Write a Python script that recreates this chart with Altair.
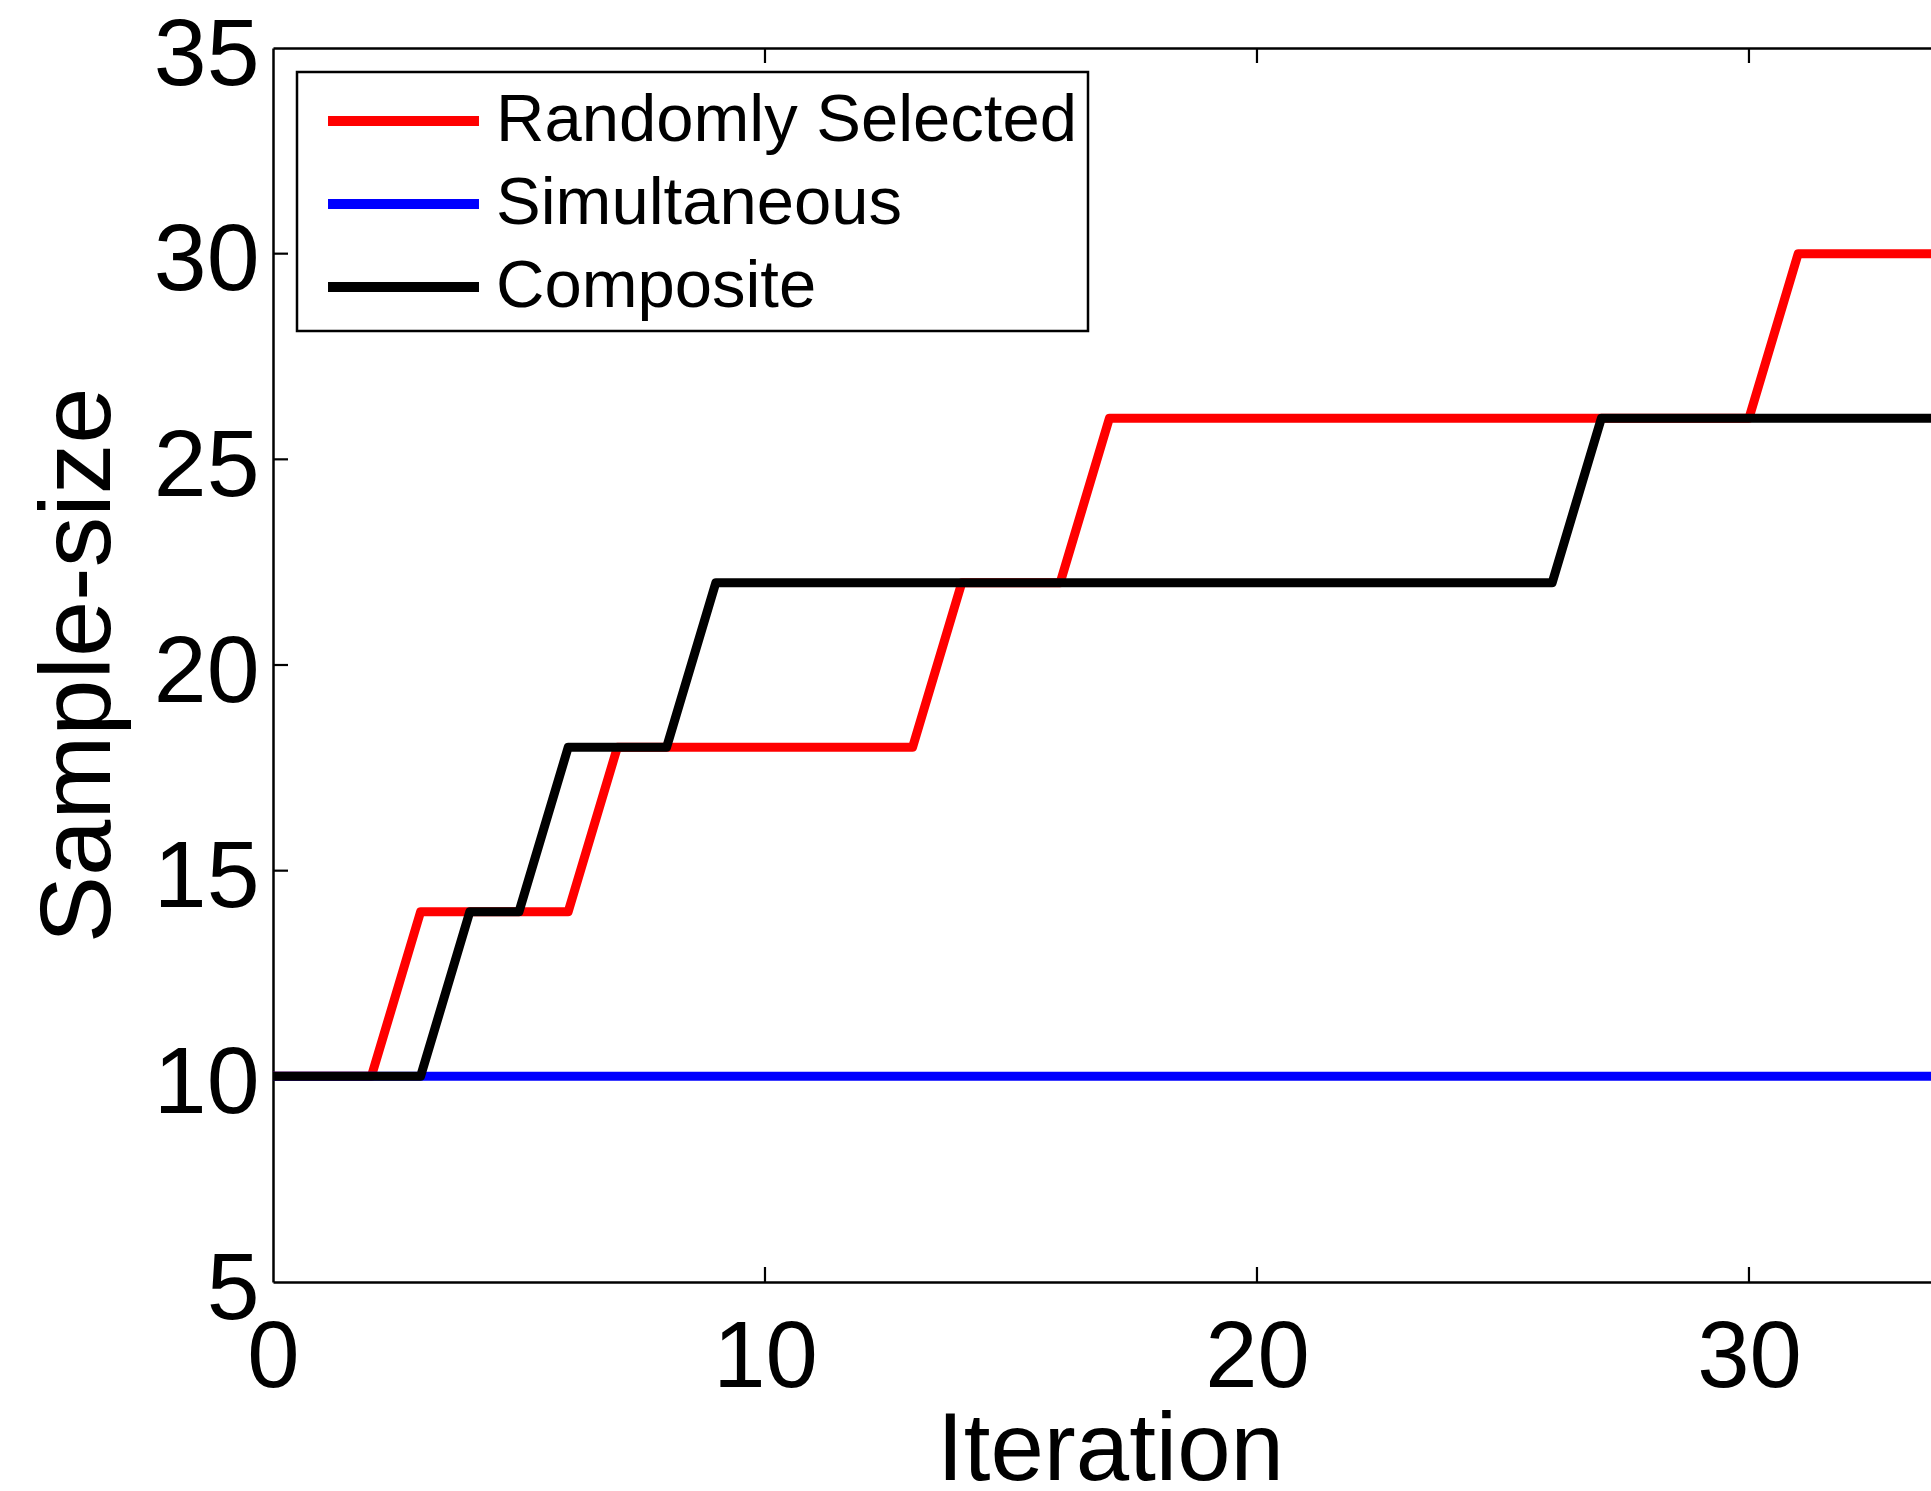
import altair as alt
import pandas as pd

# ---- data ----
iterations = list(range(0, 35))
randomly_selected = [10, 10, 10, 14, 14, 14, 14, 18, 18, 18, 18, 18, 18, 18,
                     22, 22, 22, 26, 26, 26, 26, 26, 26, 26, 26, 26, 26, 26,
                     26, 26, 26, 30, 30, 30, 30]
simultaneous = [10] * 35
composite = [10, 10, 10, 10, 14, 14, 18, 18, 18, 22, 22, 22, 22, 22, 22, 22,
             22, 22, 22, 22, 22, 22, 22, 22, 22, 22, 22, 26, 26, 26, 26, 26,
             26, 26, 26]

series_names = ["Randomly Selected", "Simultaneous", "Composite"]
series_colors = ["#ff0000", "#0000ff", "#000000"]
series_values = [randomly_selected, simultaneous, composite]

x_tick_values = [0, 10, 20, 30]
x_inner_ticks = [10, 20, 30]
y_tick_values = [5, 10, 15, 20, 25, 30, 35]
y_inner_ticks = [10, 15, 20, 25, 30]

FONT = "Liberation Sans"
W, H = 1658, 1234

rows = []
for name, vals in zip(series_names, series_values):
    for it, v in zip(iterations, vals):
        rows.append({"iteration": it, "size": v, "series": name})
df = pd.DataFrame(rows)

x_scale = alt.Scale(domain=[0, 33.7], nice=False, zero=False)
y_scale = alt.Scale(domain=[5, 35], nice=False, zero=False)

x_axis = alt.Axis(values=x_tick_values, format="d", grid=False, ticks=False,
                  tickSize=0, domain=True, domainColor="black", domainWidth=2.5,
                  labelFont=FONT, labelFontSize=94, labelColor="black",
                  labelPadding=30, labelFlush=False, labelOverlap=False,
                  title="Iteration", titleFont=FONT, titleFontSize=96,
                  titleFontWeight="normal", titleColor="black",
                  titleX=837, titleY=197, titleBaseline="alphabetic",
                  titleAlign="center")
y_axis = alt.Axis(values=y_tick_values, format="d", grid=False, ticks=False,
                  tickSize=0, domain=True, domainColor="black", domainWidth=2.5,
                  labelFont=FONT, labelFontSize=95, labelColor="black",
                  labelPadding=14, labelOffset=7, labelFlush=False,
                  labelOverlap=False,
                  title="Sample-size", titleFont=FONT, titleFontSize=101,
                  titleFontWeight="normal", titleColor="black",
                  titleAngle=270, titleX=-164, titleY=617,
                  titleBaseline="alphabetic", titleAlign="center")

lines = alt.Chart(df).mark_line(strokeWidth=9, strokeJoin="round", clip=True).encode(
    x=alt.X("iteration:Q", scale=x_scale, axis=x_axis),
    y=alt.Y("size:Q", scale=y_scale, axis=y_axis),
    color=alt.Color("series:N",
                    scale=alt.Scale(domain=series_names, range=series_colors),
                    sort=series_names,
                    legend=alt.Legend(orient="none", legendX=24, legendY=24, title=None,
                                      symbolType="M-0.545,0H4.03", symbolSize=4356,
                                      symbolStrokeWidth=10, labelFont=FONT,
                                      labelFontSize=67, labelColor="black",
                                      labelOffset=112, labelLimit=0, rowPadding=12,
                                      padding=11, strokeColor="black",
                                      fillColor="white", cornerRadius=0)),
)

xt = pd.DataFrame({"t": x_inner_ticks})
yt = pd.DataFrame({"t": y_inner_ticks})

bottom_ticks = alt.Chart(xt).mark_rule(color="black", strokeWidth=2.2).encode(
    x=alt.X("t:Q", scale=x_scale, axis=None),
    y=alt.value(H), y2=alt.value(H - 15),
)
top_ticks = alt.Chart(xt).mark_rule(color="black", strokeWidth=2.2).encode(
    x=alt.X("t:Q", scale=x_scale,
            axis=alt.Axis(orient="top", labels=False, ticks=False, grid=False,
                          domain=True, domainColor="black", domainWidth=2.5,
                          title=None)),
    y=alt.value(0), y2=alt.value(15),
)
left_ticks = alt.Chart(yt).mark_rule(color="black", strokeWidth=2.2).encode(
    y=alt.Y("t:Q", scale=y_scale, axis=y_axis),
    x=alt.value(0), x2=alt.value(15),
)

chart = alt.layer(lines, bottom_ticks, top_ticks, left_ticks).resolve_axis(
    x="independent"
).properties(
    width=W, height=H,
    autosize=alt.AutoSizeParams(type="none"),
    padding={"left": 273, "top": 48, "right": 0, "bottom": 206},
    background="white",
).configure_view(stroke=None).configure_legend(strokeWidth=2.5)

chart.save("out.html", embed_options={"renderer": "svg", "actions": False})
